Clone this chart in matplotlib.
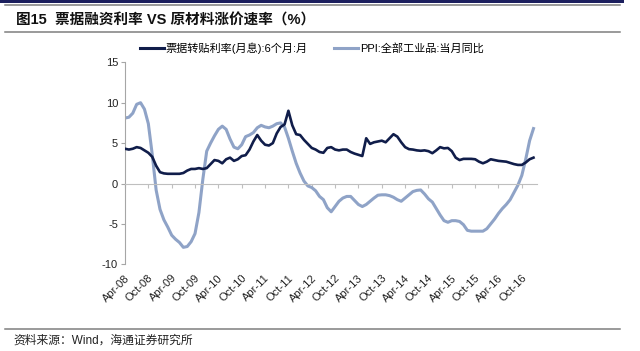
import numpy as np
import matplotlib
matplotlib.use("Agg")
import matplotlib.pyplot as plt
from matplotlib.lines import Line2D
from matplotlib.patches import Rectangle
from matplotlib.transforms import offset_copy

plt.rcParams['font.family'] = ['Liberation Sans', 'Noto Sans CJK SC', 'DejaVu Sans']

# ---- data (monthly, Apr-2008 .. Jan-2017) ----
bill_rate = [4.3, 4.2, 4.3, 4.5, 4.4, 4.1, 3.8, 3.3, 2.2, 1.4,
             1.25, 1.2, 1.2, 1.2, 1.2, 1.3, 1.6, 1.8, 1.8, 1.9,
             1.8, 1.9, 2.4, 2.9, 2.8, 2.5, 3.0, 3.2, 2.8, 3.0,
             3.4, 3.5, 4.2, 5.2, 6.0, 5.3, 4.8, 4.7, 5.0, 6.2,
             7.0, 7.3, 9.0, 7.2, 6.1, 6.0, 5.4, 4.9, 4.4, 4.2,
             3.9, 3.8, 4.4, 4.5, 4.2, 4.1, 4.2, 4.2, 3.9, 3.7,
             3.55, 3.4, 5.6, 4.9, 5.1, 5.2, 5.3, 5.1, 5.6, 6.1,
             5.8, 5.1, 4.5, 4.25, 4.2, 4.1, 4.05, 4.1, 4.0, 3.75,
             4.1, 4.5, 4.35, 4.4, 4.0, 3.2, 2.9, 3.05, 3.05, 3.05,
             3.0, 2.7, 2.5, 2.7, 3.0, 2.9, 2.8, 2.75, 2.7, 2.55,
             2.4, 2.3, 2.3, 2.6, 3.0, 3.2]
ppi = [8.1, 8.2, 8.7, 9.8, 10.0, 9.2, 7.4, 3.6, -0.8, -3.2,
       -4.5, -5.4, -6.4, -6.9, -7.3, -7.9, -7.8, -7.2, -6.2, -3.6,
       0.5, 4.0, 5.0, 5.9, 6.7, 7.1, 6.7, 5.5, 4.5, 4.3,
       4.8, 5.8, 6.0, 6.3, 6.9, 7.2, 7.0, 6.9, 7.1, 7.4,
       7.5, 7.0, 5.6, 4.0, 2.5, 1.3, 0.3, -0.3, -0.5, -0.9,
       -1.6, -2.0, -3.0, -3.5, -2.85, -2.2, -1.8, -1.6, -1.6, -2.1,
       -2.6, -2.85, -2.6, -2.2, -1.8, -1.45, -1.4, -1.4, -1.5, -1.7,
       -2.0, -2.2, -1.8, -1.4, -1.0, -0.85, -0.8, -1.3, -1.9, -2.3,
       -3.1, -3.9, -4.6, -4.8, -4.6, -4.6, -4.7, -5.1, -5.8, -5.9,
       -5.9, -5.9, -5.9, -5.6, -5.0, -4.4, -3.7, -3.1, -2.6, -2.0,
       -1.1, -0.2, 1.0, 3.0, 5.3, 6.8]
xtick_labels = ['Apr-08', 'Oct-08', 'Apr-09', 'Oct-09', 'Apr-10', 'Oct-10',
                'Apr-11', 'Oct-11', 'Apr-12', 'Oct-12', 'Apr-13', 'Oct-13',
                'Apr-14', 'Oct-14', 'Apr-15', 'Oct-15', 'Apr-16', 'Oct-16']
yticks = [15, 10, 5, 0, -5, -10]
series_names = ['票据转贴利率(月息):6个月:月', 'PPI:全部工业品:当月同比']
title = '图15  票据融资利率 VS 原材料涨价速率（%）'
source = '资料来源：Wind，海通证券研究所'

DARK = '#101d4a'
LIGHT = '#8fa3c7'
W, H = 640, 351

fig = plt.figure(figsize=(W / 100, H / 100), dpi=100)
ax = fig.add_axes([125 / W, 1 - 264.3 / H, 412 / W, (264.3 - 62.3) / H])

x = np.arange(len(ppi))
ax.plot(x, bill_rate, color=DARK, lw=1.9, solid_joinstyle='round', zorder=3)
ax.plot(x, ppi, color=LIGHT, lw=2.2, solid_joinstyle='round', zorder=2)

ax.set_xlim(0, 105.9)
ax.set_ylim(-10, 15)
ax.set_yticks(yticks)
ax.set_yticklabels([str(v) for v in yticks], fontsize=8, color='#222222')

for s in ['top', 'right']:
    ax.spines[s].set_visible(False)
ax.spines['left'].set_color('#a6a6a6')
ax.spines['bottom'].set_color('#bfbfbf')
ax.spines['bottom'].set_position(('data', 0))
ax.tick_params(axis='y', direction='out', length=3, color='#a6a6a6', pad=2)
xt = np.arange(0, 6 * len(xtick_labels), 6)
ax.set_xticks(xt)
ax.set_xticklabels([])
ax.tick_params(axis='x', direction='out', length=3, color='#bfbfbf')

lab_tr = offset_copy(ax.transData, fig=fig, x=3, y=-12, units='dots')
for xv, lab in zip(xt, xtick_labels):
    ax.text(xv, -10, lab, transform=lab_tr, rotation=45, ha='right', va='center',
            rotation_mode='anchor', fontsize=8, color='#222222')

# legend
handles = [Line2D([], [], color=DARK, lw=2.2), Line2D([], [], color=LIGHT, lw=2.2)]
fig.legend(handles, series_names, loc='center', bbox_to_anchor=(0.487, 1 - 48 / H),
           ncol=2, frameon=False, fontsize=8, handlelength=2.2, handletextpad=0.15,
           columnspacing=2.3, prop={'family': ['Liberation Sans', 'Noto Sans CJK SC'], 'size': 8})

# header / footer decoration
fig.add_artist(Rectangle((0, 1 - 3 / H), 0.975, 3 / H, transform=fig.transFigure,
                         color='#1c1f5e', lw=0))
for yy in [5, 32, 329]:
    fig.add_artist(Line2D([5 / W, 620 / W], [1 - yy / H, 1 - yy / H],
                          transform=fig.transFigure, color='#7f7f7f', lw=1.1))
fig.text(16 / W, 1 - 20 / H, title, fontsize=10.5, fontweight='bold', va='center',
         ha='left', color='#111111')
fig.text(13 / W, 1 - 341 / H, source, fontsize=8.5, va='center', ha='left',
         color='#222222')

fig.savefig('out.png', dpi=100)
